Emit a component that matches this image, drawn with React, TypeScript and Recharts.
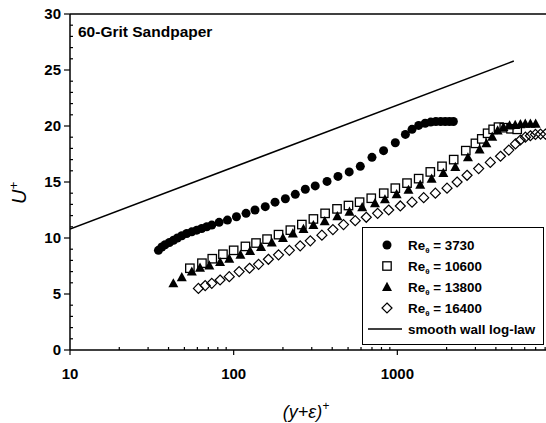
import React from 'react';
import { ScatterChart, Scatter, XAxis, YAxis, ReferenceLine, Legend } from 'recharts';

// (y+eps)+ , U+
const re3730: [number, number][] = [
  [34.7, 8.9], [36.4, 9.2], [38.1, 9.4], [40.5, 9.6], [42.9, 9.8], [45.3, 10.0], [48.2, 10.2],
  [51.7, 10.4], [55.5, 10.55], [59.5, 10.7], [63.8, 10.85], [68.5, 11.0], [73.5, 11.15],
  [81.5, 11.4], [91.6, 11.6], [104, 11.9], [119, 12.2], [135, 12.5], [156, 12.8], [179, 13.2],
  [207, 13.5], [238, 13.9], [274, 14.35], [315, 14.65], [372, 15.05], [434, 15.5], [508, 15.9],
  [594, 16.4], [700, 17.2], [824, 17.8], [972, 18.5], [1120, 19.25], [1230, 19.7], [1350, 20.05],
  [1480, 20.25], [1600, 20.35], [1720, 20.4], [1840, 20.4], [1960, 20.4], [2080, 20.4], [2200, 20.4],
];

const re10600: [number, number][] = [
  [54, 7.3], [64, 7.75], [74, 8.15], [86, 8.55], [100, 8.9], [118, 9.25], [137, 9.55], [160, 9.9],
  [188, 10.3], [222, 10.7], [261, 11.2], [307, 11.7], [362, 12.2], [428, 12.6], [503, 12.9],
  [588, 13.2], [693, 13.55], [826, 14.0], [972, 14.45], [1146, 14.9], [1350, 15.3], [1590, 15.9],
  [1875, 16.4], [2210, 17.0], [2620, 17.8], [3000, 18.45], [3280, 18.85], [3560, 19.35],
  [3850, 19.7], [4150, 19.9], [4500, 19.85], [4950, 19.75], [5400, 19.7],
];

const re13800: [number, number][] = [
  [42.8, 5.95], [48.2, 6.5], [55.5, 7.0], [62.3, 7.35], [71, 7.55], [82.6, 7.85], [94, 8.15],
  [110, 8.5], [126, 8.85], [147, 9.2], [171, 9.6], [200, 10.0], [230, 10.4], [267, 10.8],
  [307, 11.15], [360, 11.5], [430, 11.95], [510, 12.35], [610, 12.75], [730, 13.1], [840, 13.45],
  [990, 13.9], [1170, 14.3], [1380, 14.75], [1620, 15.3], [1910, 15.8], [2260, 16.35], [2700, 17.2],
  [3180, 17.9], [3500, 18.45], [3800, 19.05], [4100, 19.6], [4450, 19.9], [4850, 20.05],
  [5250, 20.1], [5650, 20.15], [6050, 20.2], [6500, 20.2], [7000, 20.2],
];

const re16400: [number, number][] = [
  [60.9, 5.5], [67, 5.75], [73.5, 5.95], [82.6, 6.25], [94, 6.55], [108, 7.0], [125, 7.3],
  [142, 7.65], [163, 8.1], [188, 8.5], [219, 8.9], [255, 9.3], [294, 9.75], [346, 10.25],
  [404, 10.75], [469, 11.2], [553, 11.55], [646, 11.85], [758, 12.2], [886, 12.5], [1043, 12.86],
  [1230, 13.2], [1449, 13.6], [1708, 14.0], [2012, 14.45], [2318, 15.0], [2667, 15.6], [3140, 16.2],
  [3700, 16.75], [4270, 17.3], [4800, 17.85], [5270, 18.4], [5650, 18.75], [6060, 19.0],
  [6500, 19.13], [6980, 19.25], [7500, 19.28], [8040, 19.28],
];

// smooth wall log-law end points
const logLaw: [number, number][] = [
  [10, 10.8],
  [5150, 25.8],
];

const xMajorTicks = [10, 100, 1000, 10000];
const xLabelTicks = [10, 100, 1000];
const xMinorTicks = [20, 30, 40, 50, 60, 70, 80, 90, 200, 300, 400, 500, 600, 700, 800, 900,
  2000, 3000, 4000, 5000, 6000, 7000, 8000, 9000];
const yMajorTicks = [0, 5, 10, 15, 20, 25, 30];
const yMinorTicks = [1, 2, 3, 4, 6, 7, 8, 9, 11, 12, 13, 14, 16, 17, 18, 19, 21, 22, 23, 24, 26, 27, 28, 29];

const seriesLabels = ['3730', '10600', '13800', '16400'];

const toPts = (a: [number, number][]) => a.map(([x, y]) => ({ x, y }));

const FONT = '"Liberation Sans", Arial, sans-serif';

const XTick = (props: any) => {
  const { x, y, payload } = props;
  const v = payload.value;
  const major = xMajorTicks.includes(v);
  return (
    <g>
      <line x1={x} x2={x} y1={y} y2={major ? y + 5 : y - 3} stroke="#000" strokeWidth={1.2} />
      {xLabelTicks.includes(v) && (
        <text x={x} y={y + 29} textAnchor="middle" fontFamily={FONT} fontWeight="bold" fontSize={15} fill="#000">
          {v}
        </text>
      )}
    </g>
  );
};

const YTick = (props: any) => {
  const { x, y, payload } = props;
  const v = payload.value;
  const major = yMajorTicks.includes(v);
  return (
    <g>
      <line x1={x} x2={major ? x - 6 : x + 3} y1={y} y2={y} stroke="#000" strokeWidth={1.2} />
      {major && (
        <text x={x - 9} y={y + 5} textAnchor="end" fontFamily={FONT} fontWeight="bold" fontSize={15} fill="#000">
          {v}
        </text>
      )}
    </g>
  );
};

const CircleShape = (p: any) => <circle cx={p.cx} cy={p.cy} r={4.5} fill="#000" />;
const SquareShape = (p: any) => (
  <rect x={p.cx - 4.2} y={p.cy - 4.2} width={8.4} height={8.4} fill="#fff" stroke="#000" strokeWidth={1.3} />
);
const TriangleShape = (p: any) => (
  <polygon points={`${p.cx},${p.cy - 5.2} ${p.cx - 5},${p.cy + 4} ${p.cx + 5},${p.cy + 4}`} fill="#000" />
);
const DiamondShape = (p: any) => (
  <polygon
    points={`${p.cx},${p.cy - 5} ${p.cx + 5},${p.cy} ${p.cx},${p.cy + 5} ${p.cx - 5},${p.cy}`}
    fill="none"
    stroke="#000"
    strokeWidth={1.2}
  />
);
const NoShape = () => <g />;

const shapes = [CircleShape, SquareShape, TriangleShape, DiamondShape];

const LegendBox = () => {
  const rows = [18, 39, 60, 81];
  return (
    <svg width={183} height={119} style={{ display: 'block' }}>
      <rect x={0.5} y={0.5} width={181} height={117} fill="#fff" stroke="#000" strokeWidth={1} />
      {seriesLabels.map((lab, i) => {
        const S = shapes[i];
        return (
          <g key={lab}>
            <S cx={25} cy={rows[i]} />
            <text x={46} y={rows[i] + 5} fontFamily={FONT} fontWeight="bold" fontSize={13.4} fill="#000">
              Re
              <tspan fontSize={8} dy={3}>θ</tspan>
              <tspan dy={-3}>{` = ${lab}`}</tspan>
            </text>
          </g>
        );
      })}
      <line x1={6} x2={40} y1={102} y2={102} stroke="#000" strokeWidth={1.5} />
      <text x={46} y={107} fontFamily={FONT} fontWeight="bold" fontSize={13.4} fill="#000">
        smooth wall log-law
      </text>
    </svg>
  );
};

export default function App() {
  return (
    <div style={{ position: 'absolute', left: 0, top: 0, width: 546, height: 423, overflow: 'hidden', background: '#fff' }}>
      <ScatterChart width={570} height={423} margin={{ top: 14, right: 9, bottom: 0, left: 0 }}>
        <XAxis
          dataKey="x"
          type="number"
          scale="log"
          domain={[10, 10000]}
          allowDataOverflow
          ticks={[...xMajorTicks, ...xMinorTicks]}
          interval={0}
          tick={<XTick />}
          tickLine={false}
          tickSize={0}
          tickMargin={0}
          height={73}
          axisLine={{ stroke: '#000', strokeWidth: 1.5 }}
          label={() => (
            <text x={306} y={418} textAnchor="middle" fontFamily={FONT} fontStyle="italic" fontSize={18} fill="#000">
              (y+ε)<tspan dy={-8} fontSize={12}>+</tspan>
            </text>
          )}
        />
        <YAxis
          dataKey="y"
          type="number"
          domain={[0, 30]}
          allowDataOverflow
          ticks={[...yMajorTicks, ...yMinorTicks]}
          interval={0}
          tick={<YTick />}
          tickLine={false}
          tickSize={0}
          tickMargin={0}
          width={70}
          axisLine={{ stroke: '#000', strokeWidth: 1.5 }}
          label={() => (
            <text
              x={26}
              y={193}
              transform="rotate(-90, 26, 193)"
              textAnchor="middle"
              fontFamily={FONT}
              fontStyle="italic"
              fontSize={20}
              fill="#000"
            >
              U<tspan dy={-8} fontSize={13}>+</tspan>
            </text>
          )}
        />
        <ReferenceLine
          y={30}
          stroke="#000"
          strokeWidth={1.5}
          label={() => (
            <text x={78} y={37} fontFamily={FONT} fontWeight="bold" fontSize={15.5} fill="#000">
              60-Grit Sandpaper
            </text>
          )}
        />
        <Scatter
          data={toPts(logLaw)}
          line={{ stroke: '#000', strokeWidth: 1.5 }}
          shape={NoShape}
          isAnimationActive={false}
        />
        <Scatter data={toPts(re3730)} shape={CircleShape} isAnimationActive={false} />
        <Scatter data={toPts(re10600)} shape={SquareShape} isAnimationActive={false} />
        <Scatter data={toPts(re13800)} shape={TriangleShape} isAnimationActive={false} />
        <Scatter data={toPts(re16400)} shape={DiamondShape} isAnimationActive={false} />
        <Legend
          layout="vertical"
          align="center"
          verticalAlign="middle"
          content={() => <LegendBox />}
          wrapperStyle={{ left: 362, top: 227, width: 183, height: 119, margin: 0 }}
        />
      </ScatterChart>
    </div>
  );
}
